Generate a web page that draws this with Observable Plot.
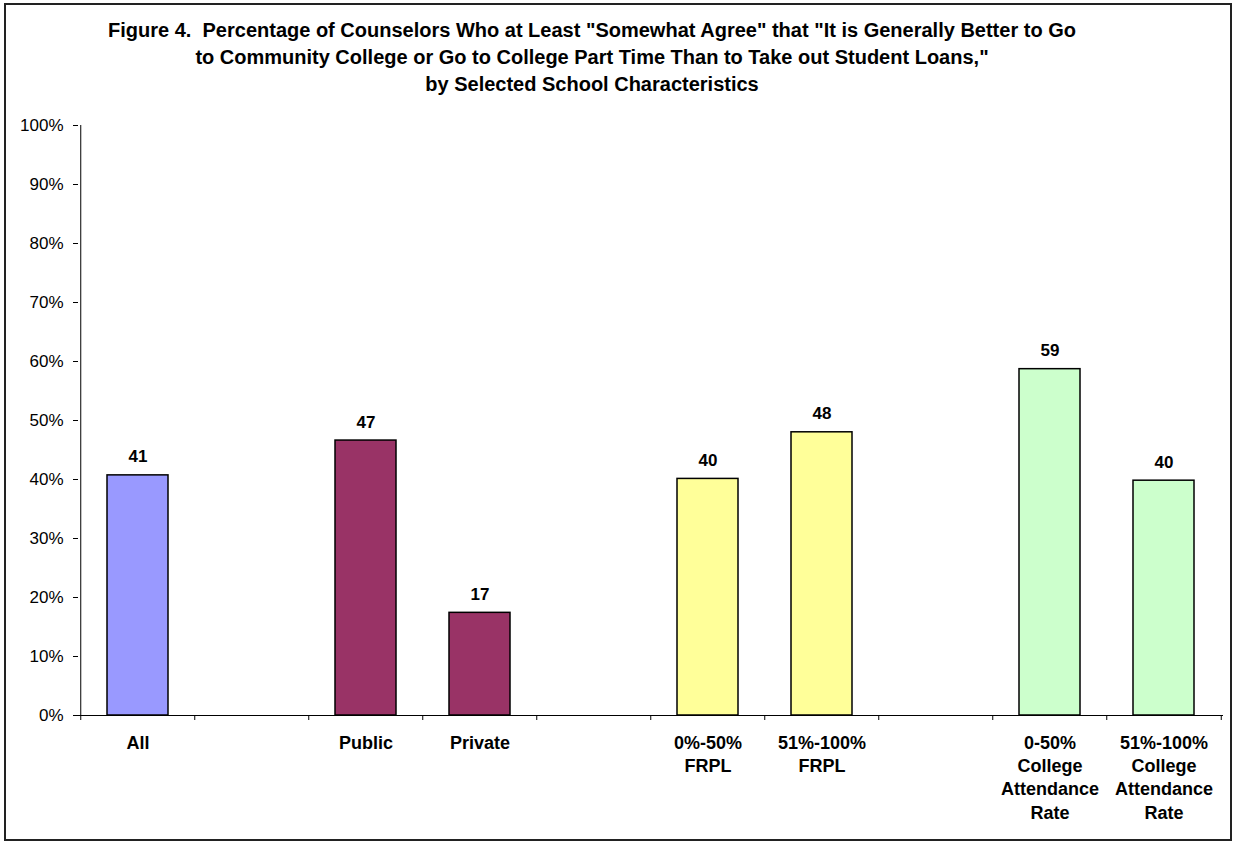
<!DOCTYPE html>
<html>
<head>
<meta charset="utf-8">
<script src="https://cdn.jsdelivr.net/npm/d3@7"></script>
<script src="https://cdn.jsdelivr.net/npm/@observablehq/plot@0.6"></script>
<style>
  html, body { margin: 0; padding: 0; background: #fff; }
  #wrap { position: relative; width: 1235px; height: 842px; font-family: Arial, "Liberation Sans", sans-serif; }
  #frame { position: absolute; left: 4px; top: 3px; width: 1224px; height: 834px; border: 2px solid #222; }
  #title { position: absolute; left: 0; top: 17px; width: 1184px; text-align: center; font-weight: bold; font-size: 20px; line-height: 27px; color: #000; }
  #chart { position: absolute; left: 0; top: 0; }
</style>
</head>
<body>
<div id="wrap">
  <div id="frame"></div>
  <div id="title">Figure 4.&nbsp; Percentage of Counselors Who at Least "Somewhat Agree" that "It is Generally Better to Go<br>to Community College or Go to College Part Time Than to Take out Student Loans,"<br>by Selected School Characteristics</div>
  <div id="chart"></div>
</div>
<script>
// Data
const categories = ["All", "Public", "Private", "0%-50%\nFRPL", "51%-100%\nFRPL", "0-50%\nCollege\nAttendance\nRate", "51%-100%\nCollege\nAttendance\nRate"];
const values = [40.7, 46.6, 17.4, 40.1, 48.0, 58.7, 39.8];
const valueLabels = ["41", "47", "17", "40", "48", "59", "40"];
const groups = ["All", "Sector", "Sector", "FRPL", "FRPL", "Attendance", "Attendance"];
const slotOrder = ["All", " ", "Public", "Private", "  ", "0%-50%\nFRPL", "51%-100%\nFRPL", "   ", "0-50%\nCollege\nAttendance\nRate", "51%-100%\nCollege\nAttendance\nRate"];
const groupColors = {All: "#9999FF", Sector: "#993366", FRPL: "#FFFF99", Attendance: "#CCFFCC"};
const yTicks = [0, 10, 20, 30, 40, 50, 60, 70, 80, 90, 100];

const data = categories.map((c, i) => ({category: c, value: values[i], label: valueLabels[i], group: groups[i]}));

const W = 1235, H = 842, ML = 78, MR = 12, MT = 125, MB = 127;
const step = (W - ML - MR) / slotOrder.length;

const chart = Plot.plot({
  width: W,
  height: H,
  marginLeft: ML,
  marginRight: MR,
  marginTop: MT,
  marginBottom: MB,
  style: {fontFamily: "Arial, 'Liberation Sans', sans-serif", color: "#000", background: "transparent"},
  x: {domain: slotOrder, paddingInner: 0.467, paddingOuter: 0.2335, axis: null},
  y: {domain: [0, 100], axis: null},
  marks: [
    Plot.barY(data, {x: "category", y: "value", fill: d => groupColors[d.group], stroke: "#000", strokeWidth: 1.5}),
    Plot.text(data, {x: "category", y: "value", text: "label", lineAnchor: "bottom", dy: -13, fontWeight: "bold", fontSize: 17, fill: "#000"}),
    // y axis
    Plot.axisY({ticks: yTicks, tickFormat: d => d + "%", tickSize: 5, tickPadding: 10, fontSize: 17, stroke: "#000", strokeWidth: 1, label: null}),
    Plot.ruleX([0], {x: () => slotOrder[0], dx: -step / 2, y1: 0, y2: 100, stroke: "#000"}),
    // x axis baseline
    Plot.ruleY([0], {stroke: "#000"}),
    // boundary ticks between slots
    Plot.axisX({ticks: slotOrder, tickFormat: () => "", tickSize: 5, dx: -step / 2, stroke: "#000", label: null}),
    Plot.axisX({ticks: [slotOrder[slotOrder.length - 1]], tickFormat: () => "", tickSize: 5, dx: step / 2, stroke: "#000", label: null}),
    // category labels
    Plot.text(data, {x: "category", frameAnchor: "bottom", text: "category", dy: 17, lineAnchor: "top", lineHeight: 1.29, fontWeight: "bold", fontSize: 18, fill: "#000"})
  ]
});
document.getElementById("chart").appendChild(chart);
</script>
</body>
</html>
